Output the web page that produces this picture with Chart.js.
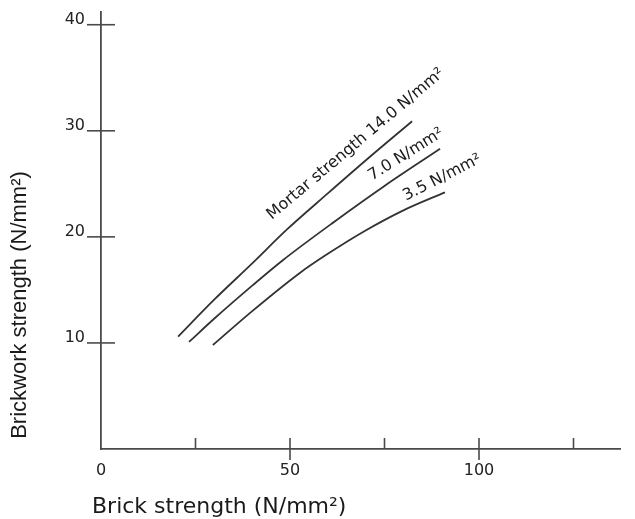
<!DOCTYPE html>
<html lang="en">
<head>
    <meta charset="UTF-8">
    <title>Brickwork strength vs brick strength</title>
    <script src="https://cdn.jsdelivr.net/npm/chart.js"></script>
    <style>
        html, body { margin: 0; padding: 0; background: #fff; }
        #wrap { width: 635px; height: 519px; position: relative; }
    </style>
</head>
<body>
<div id="wrap"><canvas id="strengthChart"></canvas></div>
<script>
    // Brick strength (N/mm2) -> brickwork strength (N/mm2)
    var brick140 = [20.4, 30, 40, 49.2, 60, 70, 82.3];
    var work140  = [10.6, 14.1, 17.5, 20.7, 24.1, 27.2, 30.9];

    var brick70 = [23.3, 30, 40, 48.1, 62, 75, 89.7];
    var work70  = [10.1, 12.3, 15.4, 17.8, 21.5, 24.8, 28.3];

    var brick35 = [29.6, 40, 52.6, 60, 70, 80, 91];
    var work35  = [9.8, 13.0, 16.6, 18.4, 20.6, 22.5, 24.2];

    var curveLabels = ['Mortar strength 14.0 N/mm\u00B2', '7.0 N/mm\u00B2', '3.5 N/mm\u00B2'];
    var xTickMarks = [25, 50, 75, 100, 125];
    var yTickMarks = [10, 20, 30, 40];

    function pts(xs, ys) {
        return xs.map(function(x, i) { return { x: x, y: ys[i] }; });
    }

    // where each curve label sits (data units) and its slope in degrees
    var labelSpots = [
        { x: 45.2, y: 21.6, angle: -40 },
        { x: 71.7, y: 25.3, angle: -32 },
        { x: 80.7, y: 23.4, angle: -27 }
    ];

    var axisColor = '#4a4a4a';
    var inkColor = '#222';

    var decorPlugin = {
        id: 'decor',
        afterDraw: function(chart) {
            var ctx = chart.ctx;
            var xs = chart.scales.x, ys = chart.scales.y;
            var x0 = xs.getPixelForValue(0), y0 = ys.getPixelForValue(0);
            ctx.save();
            ctx.strokeStyle = axisColor;
            ctx.lineWidth = 1.6;
            // y tick marks cross the axis
            yTickMarks.forEach(function(v) {
                var py = ys.getPixelForValue(v);
                ctx.beginPath();
                ctx.moveTo(x0 - 14, py);
                ctx.lineTo(x0 + 14, py);
                ctx.stroke();
            });
            // x tick marks point up, labelled ones also cross below
            xTickMarks.forEach(function(v) {
                var px = xs.getPixelForValue(v);
                ctx.beginPath();
                ctx.moveTo(px, y0 - 11);
                ctx.lineTo(px, v % 50 === 0 ? y0 + 11 : y0);
                ctx.stroke();
            });

            // labels along the curves
            ctx.fillStyle = '#1a1a1a';
            ctx.font = '16px "DejaVu Sans"';
            ctx.textAlign = 'left';
            ctx.textBaseline = 'alphabetic';
            labelSpots.forEach(function(s, i) {
                ctx.save();
                ctx.translate(xs.getPixelForValue(s.x), ys.getPixelForValue(s.y));
                ctx.rotate(s.angle * Math.PI / 180);
                ctx.fillText(curveLabels[i], 0, 0);
                ctx.restore();
            });

            // axis titles
            ctx.fillStyle = '#1a1a1a';
            ctx.font = '22px "DejaVu Sans"';
            ctx.textBaseline = 'alphabetic';
            ctx.textAlign = 'left';
            ctx.fillText('Brick strength (N/mm\u00B2)', 92, 513);

            ctx.save();
            ctx.translate(26, 305);
            ctx.rotate(-Math.PI / 2);
            ctx.textAlign = 'center';
            ctx.font = '22px "Liberation Sans"';
            ctx.fillText('Brickwork strength (N/mm\u00B2)', 0, 0);
            ctx.restore();
            ctx.restore();
        }
    };

    var lineStyle = {
        borderColor: '#333',
        borderWidth: 1.8,
        pointRadius: 0,
        fill: false,
        cubicInterpolationMode: 'monotone'
    };

    function noPad(scale) {
        scale.paddingTop = 0;
        scale.paddingBottom = 0;
        scale.paddingLeft = 0;
        scale.paddingRight = 0;
    }

    var chart = new Chart(document.getElementById('strengthChart'), {
        type: 'line',
        data: {
            datasets: [
                Object.assign({ label: curveLabels[0], data: pts(brick140, work140) }, lineStyle),
                Object.assign({ label: curveLabels[1], data: pts(brick70, work70) }, lineStyle),
                Object.assign({ label: curveLabels[2], data: pts(brick35, work35) }, lineStyle)
            ]
        },
        options: {
            responsive: true,
            maintainAspectRatio: false,
            animation: false,
            layout: { padding: { top: 12, right: 15, left: 0, bottom: 0 } },
            plugins: { legend: { display: false }, tooltip: { enabled: false } },
            scales: {
                x: {
                    type: 'linear',
                    min: 0,
                    max: 137.3,
                    grid: { display: false, drawTicks: false },
                    border: { display: true, color: axisColor, width: 1.8 },
                    ticks: {
                        stepSize: 50,
                        includeBounds: false,
                        padding: 12,
                        maxRotation: 0,
                        color: inkColor,
                        font: { family: 'DejaVu Sans', size: 16 }
                    },
                    afterFit: function(scale) { scale.height = 70; noPad(scale); }
                },
                y: {
                    min: 0,
                    max: 41.2,
                    grid: { display: false, drawTicks: false },
                    border: { display: true, color: axisColor, width: 1.8 },
                    ticks: {
                        stepSize: 10,
                        includeBounds: false,
                        padding: 16,
                        labelOffset: -5,
                        color: inkColor,
                        font: { family: 'DejaVu Sans', size: 16 },
                        callback: function(v) { return v === 0 ? '' : v; }
                    },
                    afterFit: function(scale) { scale.width = 101; noPad(scale); }
                }
            }
        },
        plugins: [decorPlugin]
    });
</script>
</body>
</html>
